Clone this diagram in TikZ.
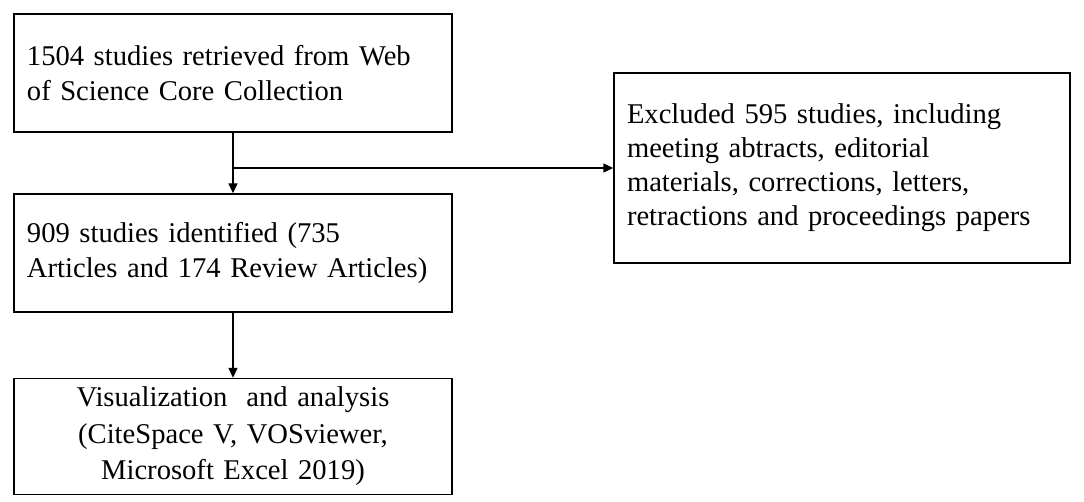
\documentclass[tikz,border=0pt]{standalone}
\usepackage{fontspec}
\setmainfont{Liberation Serif}
\usetikzlibrary{arrows.meta}
\tikzset{
  stagebox/.style={draw, line width=1.4pt, inner xsep=13pt, inner ysep=0pt,
    minimum height=118pt, align=left,
    font=\fontsize{28.6}{35}\selectfont},
  flowarrow/.style={line width=1.4pt, -{Triangle[length=10pt,width=9pt]}}
}
\begin{document}
\begin{tikzpicture}[x=1pt,y=-1pt]
  \useasboundingbox (0,0) rectangle (1084,502);
  \node[stagebox, text width=412pt] (retrieved) at(233,73)
    {1504 studies retrieved from Web\\of Science Core Collection};
  \node[stagebox, text width=412pt] (identified) at(233,253)
    {909 studies identified (735\\Articles and 174 Review Articles)};
  \node[stagebox, text width=412pt, minimum height=116pt, align=center,
    font=\fontsize{28.6}{36.5}\selectfont] (analysis) at(233,436.5)
    {Visualization\ \ and analysis\\(CiteSpace V, VOSviewer,\\Microsoft Excel 2019)};
  \node[stagebox, text width=430pt, minimum height=190pt,
    font=\fontsize{28.6}{34}\selectfont] (excluded) at(842,168)
    {Excluded 595 studies, including\\meeting abtracts, editorial\\materials, corrections, letters,\\retractions and proceedings papers};
  \coordinate (split) at(233,168);
  \draw[flowarrow] (retrieved) -- (identified);
  \draw[flowarrow] (split) -- (excluded);
  \draw[flowarrow] (identified) -- (analysis);
\end{tikzpicture}
\end{document}
